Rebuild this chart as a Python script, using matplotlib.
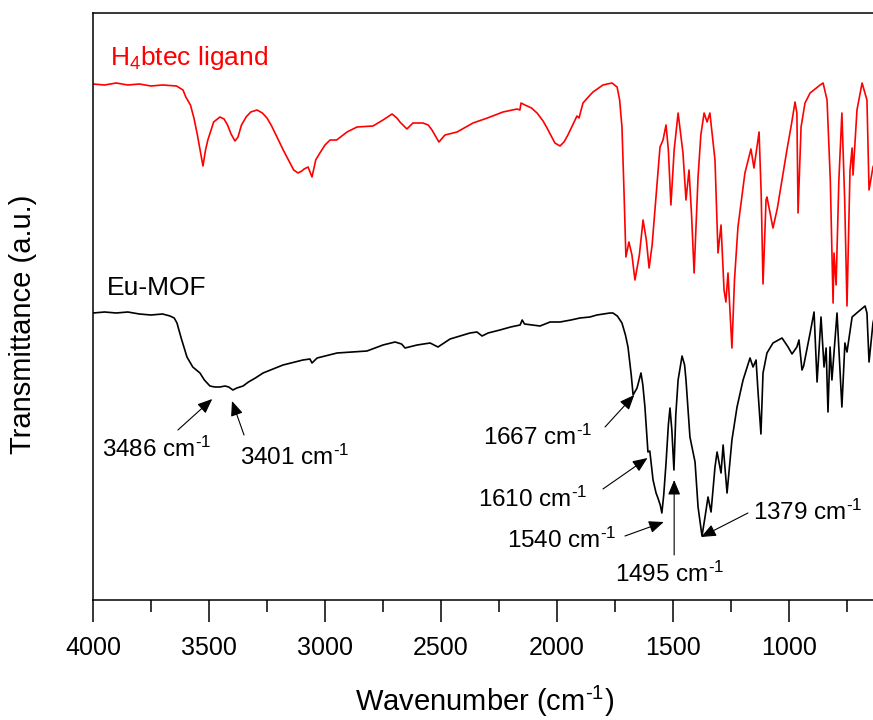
import matplotlib
matplotlib.use("Agg")
import matplotlib.pyplot as plt
from matplotlib.ticker import MultipleLocator

plt.rcParams['font.family'] = ['Liberation Sans', 'DejaVu Sans']
plt.rcParams['mathtext.fontset'] = 'custom'
plt.rcParams['mathtext.rm'] = 'Liberation Sans'
plt.rcParams['mathtext.it'] = 'Liberation Sans:italic'
plt.rcParams['mathtext.bf'] = 'Liberation Sans:bold'

# FTIR spectra, transmittance in arbitrary units (curves offset for display)
ligand_wn = [4000, 3950, 3900, 3850, 3800, 3750, 3700, 3640, 3626, 3612, 3600, 3580,
             3565, 3550, 3540, 3526, 3515, 3505, 3480, 3453, 3435, 3420, 3405, 3388,
             3375, 3360, 3340, 3320, 3293, 3270, 3250, 3230, 3207, 3180, 3151, 3135,
             3116, 3100, 3090, 3073, 3056, 3040, 3022, 3000, 2978, 2950, 2905, 2862,
             2793, 2750, 2711, 2690, 2677, 2647, 2621, 2578, 2555, 2539, 2509, 2483,
             2431, 2362, 2300, 2233, 2172, 2160, 2155, 2138, 2110, 2086, 2060, 2043,
             2020, 2009, 1987, 1970, 1953, 1914, 1905, 1888, 1865, 1845, 1802, 1763,
             1741, 1730, 1720, 1711, 1703, 1690, 1677, 1664, 1645, 1629, 1615, 1603,
             1590, 1578, 1556, 1543, 1530, 1520, 1509, 1495, 1478, 1457, 1444, 1431,
             1420, 1409, 1392, 1380, 1366, 1353, 1341, 1319, 1306, 1293, 1280, 1272,
             1263, 1246, 1235, 1220, 1190, 1164, 1151, 1129, 1120, 1112, 1099, 1095,
             1069, 1050, 1030, 1009, 990, 974, 966, 961, 948, 931, 909, 866,
             853, 836, 822, 810, 806, 797, 785, 772, 760, 750, 737, 728,
             724, 707, 685, 664, 655, 638, 625]
ligand_t = [516, 515, 517, 515, 516, 514, 515, 514, 512, 510, 503, 495,
            482, 465, 452, 434, 450, 460, 478, 483, 481, 475, 466, 459,
            463, 475, 483, 488, 490, 487, 482, 474, 463, 450, 437, 430,
            427, 429, 431, 433, 423, 440, 447, 455, 460, 460, 468, 473,
            474, 480, 486, 482, 478, 471, 477, 477, 475, 470, 458, 465,
            468, 477, 482, 488, 491, 490, 497, 495, 492, 487, 479, 472,
            462, 457, 454, 458, 465, 484, 482, 497, 503, 508, 515, 517,
            513, 500, 473, 407, 343, 358, 345, 320, 345, 380, 360, 332,
            355, 390, 453, 460, 475, 450, 395, 450, 487, 447, 400, 430,
            385, 327, 423, 465, 487, 478, 487, 440, 347, 375, 310, 298,
            327, 252, 320, 373, 427, 451, 432, 468, 407, 316, 400, 403,
            372, 392, 420, 450, 475, 498, 487, 387, 473, 497, 507, 515,
            517, 500, 420, 297, 347, 315, 420, 487, 400, 294, 430, 452,
            425, 490, 517, 500, 410, 433, 440]

mof_wn = [4000, 3950, 3900, 3850, 3800, 3750, 3700, 3668, 3650, 3638, 3620, 3595,
          3570, 3539, 3520, 3496, 3475, 3453, 3431, 3415, 3397, 3380, 3353, 3330,
          3300, 3267, 3181, 3095, 3065, 3056, 3034, 2948, 2819, 2750, 2698, 2670,
          2655, 2603, 2547, 2513, 2461, 2375, 2345, 2323, 2297, 2246, 2200, 2159,
          2150, 2140, 2073, 2030, 1987, 1940, 1901, 1858, 1828, 1772, 1759, 1740,
          1720, 1705, 1694, 1680, 1672, 1655, 1638, 1630, 1621, 1608, 1600, 1586,
          1573, 1565, 1555, 1548, 1540, 1530, 1520, 1513, 1505, 1496, 1488, 1478,
          1461, 1450, 1444, 1427, 1405, 1392, 1375, 1362, 1349, 1336, 1319, 1310,
          1293, 1284, 1267, 1246, 1224, 1198, 1168, 1155, 1142, 1134, 1121, 1112,
          1095, 1069, 1030, 1004, 987, 966, 957, 944, 937, 909, 892, 879,
          862, 849, 840, 832, 823, 815, 793, 772, 759, 750, 728, 703,
          672, 664, 655, 638, 625]
mof_t = [287, 288, 287, 288, 286, 285, 286, 284, 282, 277, 262, 243,
         233, 227, 220, 214, 213, 213, 214, 213, 210, 212, 214, 218,
         222, 227, 235, 240, 241, 237, 242, 247, 249, 255, 258, 256,
         252, 255, 257, 253, 261, 267, 268, 264, 267, 270, 273, 275,
         280, 276, 274, 278, 278, 280, 282, 283, 285, 287, 287, 284,
         277, 265, 253, 225, 205, 212, 227, 215, 193, 148, 149, 120,
         107, 102, 95, 87, 105, 137, 175, 192, 170, 130, 185, 220,
         244, 235, 220, 163, 138, 93, 64, 83, 103, 88, 133, 148,
         127, 155, 107, 160, 193, 220, 242, 233, 240, 210, 166, 227,
         247, 257, 262, 253, 246, 253, 260, 230, 234, 267, 288, 218,
         283, 233, 252, 188, 253, 220, 287, 193, 257, 248, 283, 288,
         294, 287, 238, 277, 290]

# labelled Eu-MOF bands (cm-1)
mof_peaks = [3486, 3401, 1667, 1610, 1540, 1495, 1379]

# arrow tip height, arrow tail (wn, y) and text anchor (wn, y) for each band label
tip_y = [201, 199, 205, 142, 78, 120, 63]
tails = [(3634, 170), (3349, 165), (1793, 173), (1802, 111), (1707, 64), (1495, 45), (1177, 87)]
text_pos = [(3961, 143), (3366, 135), (2319, 155), (2341, 93), (2216, 52), (1750, 18), (1155, 80)]

fig = plt.figure(figsize=(8.73, 7.2), dpi=100)
ax = fig.add_axes([93 / 873, 120 / 720, 783 / 873, 587 / 720])

ax.plot(ligand_wn, ligand_t, color='#ff0000', lw=1.2)
ax.plot(mof_wn, mof_t, color='black', lw=1.2)

ax.text(4000 - 17 / 0.232, 600 - 65, r'H$_\mathregular{4}$btec ligand', color='#ff0000',
        fontsize=19, ha='left', va='baseline')
ax.text(4000 - 14 / 0.232, 600 - 295, 'Eu-MOF', color='black',
        fontsize=19, ha='left', va='baseline')

for wn, ty, tail, tp in zip(mof_peaks, tip_y, tails, text_pos):
    ax.annotate('', xy=(wn, ty), xytext=tail,
                arrowprops=dict(arrowstyle='-|>,head_length=0.6,head_width=0.25',
                                color='black', lw=0.8, mutation_scale=15,
                                shrinkA=0, shrinkB=0))
    ax.text(tp[0], tp[1], f'{wn} cm$^{{\\text{{-1}}}}$', fontsize=17.5,
            ha='left', va='baseline')

ax.set_xlim(4000, 625)
ax.set_ylim(0, 587)
ax.xaxis.set_major_locator(MultipleLocator(500))
ax.xaxis.set_minor_locator(MultipleLocator(250))
ax.set_yticks([])
ax.tick_params(axis='x', which='major', direction='out', length=16, width=1.1,
               labelsize=18, pad=10)
ax.tick_params(axis='x', which='minor', direction='out', length=8.5, width=1.1)
for s in ax.spines.values():
    s.set_linewidth(1.1)

ax.set_xlabel(r'Wavenumber (cm$^{\text{-1}}$)', fontsize=21, labelpad=17)
ax.set_ylabel('Transmittance (a.u.)', fontsize=21)
ax.yaxis.set_label_coords(-56 / 783, 0.47)

fig.savefig('out.png', dpi=100)
